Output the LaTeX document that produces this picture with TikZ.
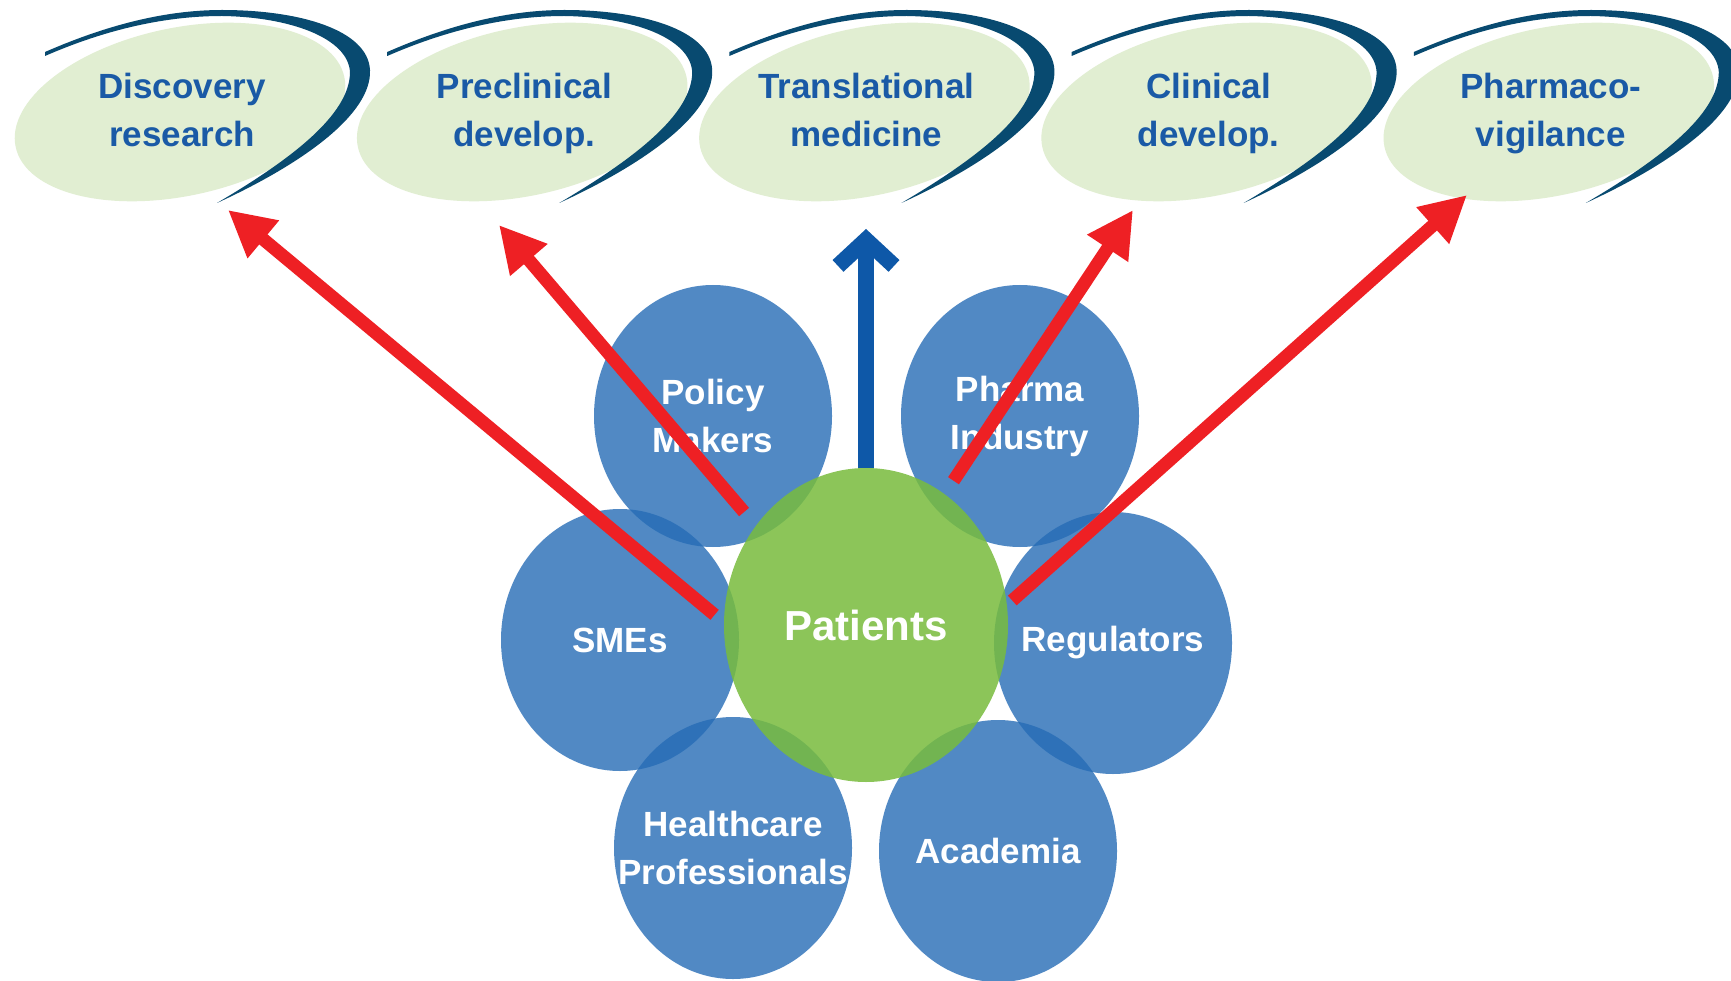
\documentclass[tikz,border=0pt]{standalone}
\usepackage{fontspec}
\setmainfont{Liberation Sans}
\usetikzlibrary{shapes.geometric,arrows.meta}
\definecolor{stakeblue}{RGB}{38,108,182}
\definecolor{patgreen}{RGB}{120,188,61}
\definecolor{paleleaf}{RGB}{225,238,210}
\definecolor{phasetext}{RGB}{26,90,166}
\definecolor{swoosh}{RGB}{8,74,112}
\definecolor{arrowred}{RGB}{238,32,36}
\definecolor{arrowblue}{RGB}{14,88,168}

\begin{document}
\begin{tikzpicture}[x=1pt,y=-1pt]
  \tikzset{ sh/.style={ellipse,fill=stakeblue,fill opacity=0.8,text opacity=1,text=white,
      inner xsep=-50pt,inner ysep=-20pt,minimum width=238pt,minimum height=262pt,align=center,
      font=\fontsize{35}{48}\selectfont\bfseries},
    phase/.style={align=center,anchor=north,inner sep=0pt,text=phasetext,
      font=\fontsize{35}{48}\selectfont\bfseries},
    redarr/.style={arrowred,line width=13pt,-{Triangle[length=46pt,width=46pt]}},
  }
  \fill[white] (0,0) rectangle (1731,981);
  \useasboundingbox (0,0) rectangle (1731,981);

  % development phases
  \foreach \i/\name/\txt in {0/disc/{Discovery\\research},1/precl/{Preclinical\\develop.},
      2/transl/{Translational\\medicine},3/clin/{Clinical\\develop.},4/pharmaco/{Pharmaco-\\vigilance}}{
    \begin{scope}[shift={(342.2*\i,0)}]
      \fill[paleleaf, rotate around={12:(180,112)}] (180,112) ellipse [x radius=168pt, y radius=84pt];
      \fill[swoosh] (45,52) .. controls (100,28) and (160,10) .. (222,10)
        .. controls (300,10) and (368,30) .. (370,70)
        .. controls (372,115) and (300,165) .. (217,203)
        .. controls (290,160) and (350,115) .. (350,72)
        .. controls (348,38) and (290,17) .. (222,16)
        .. controls (160,16) and (100,32) .. (45,56) -- cycle;
      \node[phase] (\name) at (182,73) {\txt};
    \end{scope}
  }

  % stakeholders
  \node[sh] (policy) at (713,416) {Policy\\Makers};
  \node[sh] (pharma) at (1020,416) {Pharma\\Industry};
  \node[sh] (smes) at (620,640) {SMEs};
  \node[sh] (regul) at (1113,643) {Regulators};
  \node[sh] (health) at (733,848) {Healthcare\\Professionals};
  \node[sh] (acad) at (998,851) {Academia};
  \node[sh, fill=patgreen, fill opacity=0.85, minimum width=284pt, minimum height=314pt,
    font=\fontsize{42}{50}\selectfont\bfseries] (pat) at (866,625) {Patients};

  \coordinate (t1) at (228,210);
  \coordinate (t2) at (499,225);
  \coordinate (t3) at (1133,210);
  \coordinate (t4) at (1467,195);
  \coordinate (top) at (866,229);

  \draw[arrowblue, line width=16pt, -{Straight Barb[length=26pt,width=56pt]}] (pat.north) -- (top);
  \draw[redarr, shorten <=12pt] (pat.179) -- (t1);
  \draw[redarr, shorten <=18pt] (pat.138) -- (t2);
  \draw[redarr, shorten <=16pt] (pat.59) -- (t3);
  \draw[redarr, shorten <=7pt] (pat.8) -- (t4);
\end{tikzpicture}
\end{document}
